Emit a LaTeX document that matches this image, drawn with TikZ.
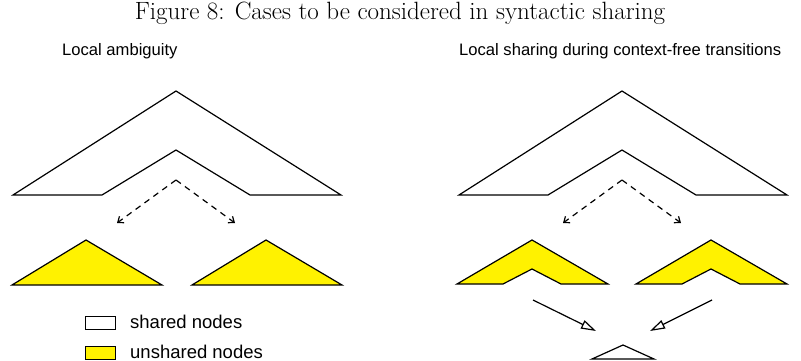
\documentclass[tikz,border=0pt]{standalone}
\usepackage{fontspec}
\usepackage{tikz}
\usetikzlibrary{positioning, arrows.meta, calc}
\newfontfamily\helvfont{Liberation Sans}

\begin{document}
\begin{tikzpicture}[
  x=1pt, y=-1pt,
  shared/.style={draw=black, line width=1.2pt, fill=white},
  unshared/.style={draw=black, line width=1.2pt, fill=yellow},
  dasharrow/.style={-{Straight Barb[length=5pt, width=8pt]}, line width=1.2pt,
    dash pattern=on 6pt off 5pt},
  treearrow/.style={-{Triangle[open, length=15pt, width=9pt]}, line width=1.2pt},
  caption/.style={font=\fontsize{25}{30}\selectfont, anchor=base, inner sep=0pt},
  heading/.style={font=\helvfont\fontsize{16.6}{20}\selectfont, anchor=base west, inner sep=0pt},
  keytext/.style={font=\helvfont\fontsize{18.5}{22}\selectfont, anchor=base west, inner sep=0pt},
  keybox/.style={rectangle, draw=black, line width=1.2pt, minimum width=30pt,
    minimum height=13pt, inner sep=0pt, anchor=north west, fill=#1},
]
\useasboundingbox (0,0) rectangle (801,361);

% Caption and the two panel headings.
\node[caption] (title) at (400,20) {Figure 8: Cases to be considered in syntactic sharing};
\node[heading] (lefthead)  at (62,56)  {Local ambiguity};
\node[heading] (righthead) at (459,56) {Local sharing during context-free transitions};

% Shared upper tree, same in both panels, with the dashed split below it.
\foreach \dx in {0,446} {
  \draw[shared] (13+\dx,195) -- (176+\dx,91) -- (341+\dx,195) -- (250+\dx,195)
    -- (176+\dx,150) -- (102+\dx,195) -- cycle;
  \coordinate (split\dx) at (176+\dx,180);
  \coordinate (splitL\dx) at (117+\dx,223);
  \coordinate (splitR\dx) at (235+\dx,223);
  \draw[dasharrow] (split\dx) -- (splitL\dx);
  \draw[dasharrow] (split\dx) -- (splitR\dx);
}

% Local ambiguity: two unshared subtrees.
\foreach \dx in {0,180} {
  \draw[unshared] (12+\dx,285) -- (86+\dx,240) -- (162+\dx,285) -- cycle;
}

% Context-free transitions: unshared chevrons over one shared subtree.
\foreach \dx in {0,179} {
  \draw[unshared] (457+\dx,284) -- (532+\dx,240) -- (608+\dx,284) -- (561+\dx,284)
    -- (532+\dx,269) -- (503+\dx,284) -- cycle;
}
\draw[shared] (592,359) -- (623,345) -- (654,359) -- cycle;
\coordinate (fromL) at (533,300);
\coordinate (fromR) at (712,300);
\coordinate (toL)   at (596,331);
\coordinate (toR)   at (650,331);
\draw[treearrow] (fromL) -- (toL);
\draw[treearrow] (fromR) -- (toR);

% Legend.
\node[keybox=white]  (keyshared)   at (85,316) {};
\node[keybox=yellow] (keyunshared) at (85,346) {};
\node[keytext] (sharedlabel)   at (130,328) {shared nodes};
\node[keytext] (unsharedlabel) at (130,358) {unshared nodes};

\end{tikzpicture}
\end{document}
